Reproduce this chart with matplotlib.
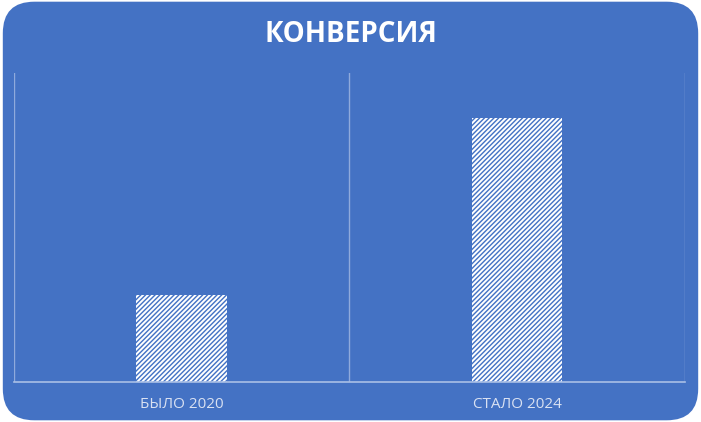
import matplotlib
matplotlib.use("Agg")
import matplotlib.pyplot as plt
from matplotlib.patches import FancyBboxPatch

# Daten
kategorien = ["БЫЛО 2020", "СТАЛО 2024"]
werte = [1.0, 3.03]
titel = "КОНВЕРСИЯ"

blau = "#4472C4"
plt.rcParams["font.family"] = ["Open Sans", "DejaVu Sans"]
plt.rcParams["hatch.linewidth"] = 1.4

fig = plt.figure(figsize=(7.01, 4.22), dpi=100)
fig.patch.set_facecolor("white")

# Hintergrund mit runden Ecken
hg = FancyBboxPatch((0.004, 0.004), 0.992, 0.992,
                    boxstyle="round,pad=0,rounding_size=0.045",
                    transform=fig.transFigure, facecolor=blau,
                    edgecolor="none", mutation_aspect=701 / 422, zorder=-10)
fig.patches.append(hg)

ax = fig.add_axes([0.02, 0.095, 0.957, 0.732])
ax.set_facecolor("none")
ax.set_zorder(1)

x = range(len(kategorien))
ax.bar(x, werte, width=0.27, color=blau, edgecolor="white",
       hatch="///////", linewidth=0)

ax.set_xlim(-0.5, len(kategorien) - 0.5)
ax.set_ylim(0, 3.55)

# vertikale Trennlinien
for g in [-0.5, 0.5, 1.5]:
    ax.axvline(g, color="#8FAADC", linewidth=1)

for s in ["top", "right", "left"]:
    ax.spines[s].set_visible(False)
ax.spines["bottom"].set_color("#A9BFE6")
ax.spines["bottom"].set_linewidth(1.2)

ax.set_yticks([])
ax.set_xticks(list(x))
ax.set_xticklabels(kategorien, color="#D9E1F2", fontsize=11)
ax.tick_params(axis="x", length=0, pad=11)

fig.text(0.5, 0.918, titel, ha="center", va="center", color="white",
         fontsize=20, fontweight="bold")

fig.savefig("out.png", dpi=100, facecolor=fig.get_facecolor())
